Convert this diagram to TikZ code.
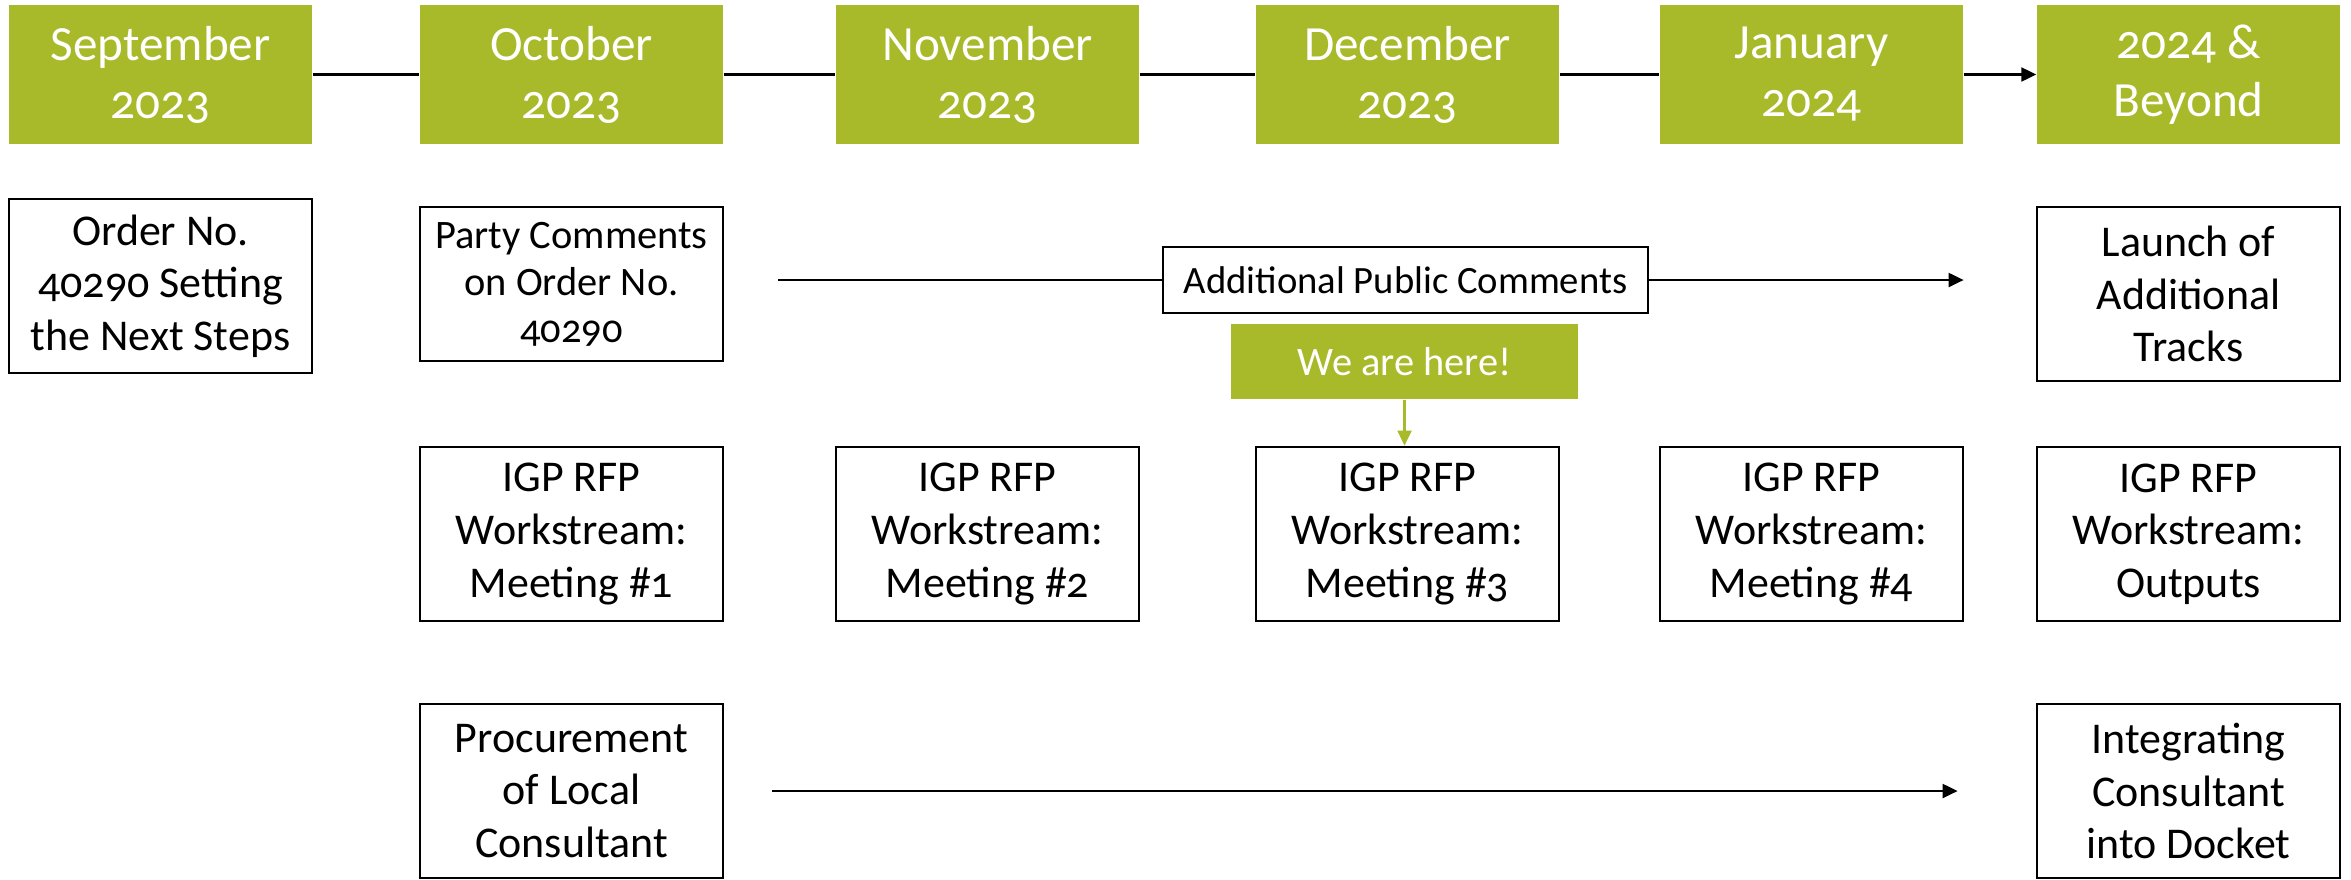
\documentclass[tikz,border=0pt]{standalone}
\usepackage{fontspec}
\setmainfont{Carlito}[Numbers=OldStyle]
\usetikzlibrary{arrows.meta}
\definecolor{leaf}{RGB}{168,185,41}
\tikzset{
  monthbox/.style={fill=leaf, text=white, minimum width=3.03cm, minimum height=1.39cm, inner sep=2pt, align=center, font=\fontsize{14}{16.5}\selectfont},
  stepbox/.style={draw=black, line width=0.8pt, minimum width=3.03cm, minimum height=1.74cm, inner sep=2pt, align=center, font=\fontsize{12.5}{15}\selectfont},
  tl/.style={draw=black, line width=0.6pt},
  tip/.style={-{Triangle[length=1.5mm,width=1.4mm]}},
}
\begin{document}
\begin{tikzpicture}
\useasboundingbox (0,0) rectangle (23.51,8.79);

\node[monthbox] (sep) at (1.605,8.045) {September\\2023};
\node[monthbox] (oct) at (5.715,8.045) {October\\2023};
\node[monthbox] (nov) at (9.875,8.045) {November\\2023};
\node[monthbox] (dec) at (14.075,8.045) {December\\2023};
\node[monthbox] (jan) at (18.115,8.045) {January\\2024};
\node[monthbox] (beyond) at (21.885,8.045) {2024 \&\\Beyond};

\draw[tl] (sep) -- (oct);
\draw[tl] (oct) -- (nov);
\draw[tl] (nov) -- (dec);
\draw[tl] (dec) -- (jan);
\draw[tl,tip] (jan) -- (beyond);

\node[stepbox] (order) at (1.605,5.93) {Order No.\\40290 Setting\\the Next Steps};
\node[stepbox, minimum height=1.54cm, font=\fontsize{11.5}{13.4}\selectfont] (party) at (5.715,5.95) {Party Comments\\on Order No.\\40290};
\node[stepbox, minimum width=4.85cm, minimum height=0.66cm, font=\fontsize{11}{13}\selectfont] (extra) at (14.055,5.99) {Additional Public Comments};
\node[stepbox] (launch) at (21.885,5.85) {Launch of\\Additional\\Tracks};

\draw[tl, shorten <=0.54cm] (party.east |- extra.west) -- (extra.west);
\draw[tl, tip, shorten >=0.72cm] (extra.east) -- (launch.west |- extra.east);

\node[monthbox, minimum width=3.47cm, minimum height=0.75cm, font=\fontsize{11.5}{13}\selectfont] (here) at (14.045,5.175) {We are here!};

\node[stepbox] (igpa) at (5.715,3.45) {IGP RFP\\Workstream:\\Meeting \#1};
\node[stepbox] (igpb) at (9.875,3.45) {IGP RFP\\Workstream:\\Meeting \#2};
\node[stepbox] (igpc) at (14.075,3.45) {IGP RFP\\Workstream:\\Meeting \#3};
\node[stepbox] (igpd) at (18.115,3.45) {IGP RFP\\Workstream:\\Meeting \#4};
\node[stepbox] (igpe) at (21.885,3.45) {IGP RFP\\Workstream:\\Outputs};

\draw[leaf, line width=0.6pt, tip] (here.south) -- (here.south |- igpc.north);

\node[stepbox] (proc) at (5.715,0.88) {Procurement\\of Local\\Consultant};
\node[stepbox] (integ) at (21.885,0.88) {Integrating\\Consultant\\into Docket};

\draw[tl, tip, shorten <=0.48cm, shorten >=0.78cm] (proc) -- (integ);
\end{tikzpicture}
\end{document}
